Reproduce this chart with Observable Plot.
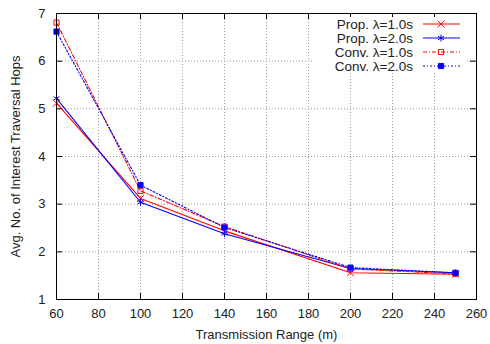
<!DOCTYPE html>
<html>
<head>
<meta charset="utf-8">
<script src="https://cdn.jsdelivr.net/npm/d3@7"></script>
<script src="https://cdn.jsdelivr.net/npm/@observablehq/plot@0.6"></script>
<style>
  html, body { margin: 0; padding: 0; background: #fff; }
  #wrap { position: relative; width: 490px; height: 344px; font-family: "Liberation Sans", Arial, sans-serif; }
  #legend { position: absolute; left: 314px; top: 17px; width: 153px; height: 56px; background: #fff; }
</style>
</head>
<body>
<div id="wrap"><div id="legend"></div></div>
<script>
const ranges = [60, 100, 140, 200, 250];
const propL1 = [5.12, 3.12, 2.44, 1.56, 1.53];
const propL2 = [5.22, 3.04, 2.38, 1.65, 1.56];
const convL1 = [6.81, 3.28, 2.53, 1.64, 1.54];
const convL2 = [6.62, 3.40, 2.51, 1.67, 1.56];
const xTicks = [60, 80, 100, 120, 140, 160, 180, 200, 220, 240, 260];
const yTicks = [1, 2, 3, 4, 5, 6, 7];

const seriesNames = ["Prop. λ=1.0s", "Prop. λ=2.0s", "Conv. λ=1.0s", "Conv. λ=2.0s"];
const seriesValues = [propL1, propL2, convL1, convL2];
const colors = ["#ff0000", "#0000ff", "#ff0000", "#0000ff"];
const dashes = [null, null, "4,2,1,2", "2,2,1,2"];
const symbols = ["times", "asterisk", "square", "square"];
const fills = ["none", "none", "none", "#0000ff"];

const W = 490, H = 344, mL = 56, mR = 14, mT = 13, mB = 45;
const fh = H - mT - mB, fw = W - mL - mR;

const marks = [
  Plot.ruleX(xTicks, {x: d => d, stroke: "#999", strokeOpacity: 1, strokeDasharray: "1,2"}),
  Plot.ruleY(yTicks, {y: d => d, stroke: "#999", strokeOpacity: 1, strokeDasharray: "1,2"}),
  Plot.ruleX(xTicks, {x: d => d, insetTop: fh - 6, stroke: "#000"}),
  Plot.ruleX(xTicks, {x: d => d, insetBottom: fh - 6, stroke: "#000"}),
  Plot.ruleY(yTicks, {y: d => d, insetRight: fw - 6, stroke: "#000"}),
  Plot.ruleY(yTicks, {y: d => d, insetLeft: fw - 6, stroke: "#000"}),
  Plot.axisX({ticks: xTicks, tickFormat: d3.format("d"), tickSize: 0, tickPadding: 9, fontSize: 13, label: "Transmission Range (m)", labelAnchor: "center", labelArrow: "none", labelOffset: 39}),
  Plot.axisY({ticks: yTicks, tickFormat: d3.format("d"), tickSize: 0, tickPadding: 11, fontSize: 13, label: "Avg. No. of Interest Traversal Hops", labelAnchor: "center", labelArrow: "none", labelOffset: 46})
];
seriesValues.forEach((vals, i) => {
  const data = ranges.map((r, j) => ({x: r, y: vals[j]}));
  marks.push(Plot.line(data, {x: "x", y: "y", stroke: colors[i], strokeWidth: 1.1, strokeDasharray: dashes[i]}));
});
seriesValues.forEach((vals, i) => {
  const data = ranges.map((r, j) => ({x: r, y: vals[j]}));
  marks.push(Plot.dot(data, {x: "x", y: "y", symbol: symbols[i], r: symbols[i] === "square" ? 2.9 : 3.2, stroke: colors[i], fill: fills[i], strokeWidth: 1}));
});
marks.push(Plot.frame({stroke: "#000", strokeWidth: 1}));

const chart = Plot.plot({
  width: W, height: H,
  marginLeft: mL, marginRight: mR, marginTop: mT, marginBottom: mB,
  style: {fontFamily: "'Liberation Sans', Arial, sans-serif", fontSize: "13px", color: "#222", background: "#fff"},
  x: {domain: [60, 260]},
  y: {domain: [1, 7]},
  marks
});
document.getElementById("wrap").insertBefore(chart, document.getElementById("legend"));

// legend
const lg = d3.select("#legend").append("svg").attr("width", 153).attr("height", 56)
  .style("font-family", "'Liberation Sans', Arial, sans-serif").style("font-size", "13.5px");
seriesNames.forEach((name, i) => {
  const cy = 7 + i * 14;
  lg.append("text").attr("x", 99).attr("y", cy).attr("dy", "0.35em").attr("text-anchor", "end").attr("fill", "#222").text(name);
  lg.append("line").attr("x1", 109).attr("x2", 146).attr("y1", cy).attr("y2", cy)
    .attr("stroke", colors[i]).attr("stroke-width", 1.1).attr("stroke-dasharray", dashes[i]);
  const sym = {times: d3.symbolTimes, asterisk: d3.symbolAsterisk, square: d3.symbolSquare}[symbols[i]];
  const rr = symbols[i] === "square" ? 2.9 : 3.2;
  lg.append("path").attr("transform", `translate(127,${cy})`)
    .attr("d", d3.symbol(sym, Math.PI * rr * rr)())
    .attr("stroke", colors[i]).attr("fill", fills[i]);
});
</script>
</body>
</html>
